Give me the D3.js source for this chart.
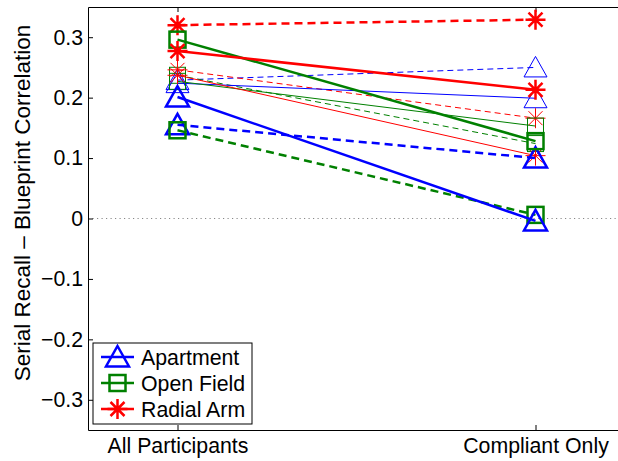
<!DOCTYPE html>
<html>
<head>
<meta charset="utf-8">
<script src="https://cdn.jsdelivr.net/npm/d3@7"></script>
<style>
  body { margin: 0; background: #fff; }
  text { font-family: "Liberation Sans", Arial, Helvetica, sans-serif; }
</style>
</head>
<body>
<script>
// conditions on the x axis
const conditions = ['All Participants', 'Compliant Only']
const yTicks = [-0.3, -0.2, -0.1, 0, 0.1, 0.2, 0.3]

// series names (legend), one per environment
const groups = ['Apartment', 'Open Field', 'Radial Arm']

// each environment has 4 lines: thick solid, thin solid, thick dashed, thin dashed
const apartment = {
  thickSolid:  [0.201, -0.004],
  thinSolid:   [0.224, 0.199],
  thickDashed: [0.155, 0.100],
  thinDashed:  [0.229, 0.250]
}
const openField = {
  thickSolid:  [0.296, 0.128],
  thinSolid:   [0.227, 0.153],
  thickDashed: [0.146, 0.006],
  thinDashed:  [0.237, 0.124]
}
const radialArm = {
  thickSolid:  [0.277, 0.213],
  thinSolid:   [0.237, 0.104],
  thickDashed: [0.320, 0.329],
  thinDashed:  [0.246, 0.166]
}

const W = 618, H = 461
const axLeft = 88, axTop = 7, axBottom = 430
const fs = 21.3

let svg = d3.select('body').append('svg')
  .attr('width', W).attr('height', H)

let x = d3.scaleLinear().domain([0.75, 2.25]).range([axLeft, 625])
let y = d3.scaleLinear().domain([-0.35, 0.35]).range([axBottom, axTop])

// zero reference
svg.append('line')
  .attr('x1', x(0.75)).attr('x2', x(2.25))
  .attr('y1', y(0)).attr('y2', y(0))
  .attr('stroke', '#888').attr('stroke-width', 1)
  .attr('stroke-dasharray', '1.2,3.3')

// axes
svg.append('g').attr('transform', `translate(${axLeft},0)`)
  .call(d3.axisLeft(y).tickValues(yTicks).tickSizeInner(-5).tickSizeOuter(0).tickPadding(5)
    .tickFormat(d => d === 0 ? '0' : d3.format('.1f')(d)))
svg.append('g').attr('transform', `translate(0,${axBottom})`)
  .call(d3.axisBottom(x).tickValues([1, 2]).tickSizeInner(-5).tickSizeOuter(0).tickPadding(8)
    .tickFormat(d => conditions[d - 1]))
svg.append('g').attr('transform', `translate(0,${axTop})`)
  .call(d3.axisTop(x).tickValues([1, 2]).tickSizeInner(-5).tickSizeOuter(0).tickFormat(''))

svg.selectAll('.tick text').attr('font-size', fs).attr('fill', '#000')
  .attr('font-family', '"Liberation Sans", Arial, sans-serif')
svg.selectAll('.domain, .tick line').attr('stroke', '#000').attr('stroke-width', 1)

svg.append('text')
  .attr('transform', 'translate(30,203) rotate(-90)')
  .attr('text-anchor', 'middle')
  .attr('font-size', 22.5)
  .text('Serial Recall \u2013 Blueprint Correlation')

// markers
let drawMarker = (g, shape, cx, cy, color, sw) => {
  if (shape == 'tri') {
    g.append('path')
      .attr('d', `M${cx},${cy - 11}L${cx + 11.5},${cy + 9.5}L${cx - 11.5},${cy + 9.5}Z`)
      .attr('fill', 'none').attr('stroke', color).attr('stroke-width', sw)
  } else if (shape == 'sq') {
    g.append('rect')
      .attr('x', cx - 8).attr('y', cy - 8).attr('width', 16).attr('height', 16)
      .attr('fill', 'none').attr('stroke', color).attr('stroke-width', sw)
  } else {
    let r = 10, d = 7
    g.append('path')
      .attr('d', `M${cx - r},${cy}H${cx + r}M${cx},${cy - r}V${cy + r}` +
        `M${cx - d},${cy - d}L${cx + d},${cy + d}M${cx - d},${cy + d}L${cx + d},${cy - d}`)
      .attr('fill', 'none').attr('stroke', color).attr('stroke-width', sw)
  }
}

let series = [
  { data: apartment, color: '#0000ff', shape: 'tri' },
  { data: openField, color: '#008000', shape: 'sq' },
  { data: radialArm, color: '#ff0000', shape: 'star' }
]
let styles = [
  { key: 'thinDashed', sw: 1, dash: '6,4' },
  { key: 'thinSolid', sw: 1, dash: null },
  { key: 'thickDashed', sw: 2.5, dash: '8,5' },
  { key: 'thickSolid', sw: 2.5, dash: null }
]

let line = d3.line().x((d, i) => x(i + 1)).y(d => y(d))
let plot = svg.append('g')

styles.forEach(st => {
  series.forEach(s => {
    let vals = s.data[st.key]
    let g = plot.append('g')
    g.append('path')
      .attr('d', line(vals))
      .attr('fill', 'none')
      .attr('stroke', s.color)
      .attr('stroke-width', st.sw)
      .attr('stroke-dasharray', st.dash)
    vals.forEach((v, i) => drawMarker(g, s.shape, x(i + 1), y(v), s.color, st.sw))
  })
})

// legend
let lg = svg.append('g')
lg.append('rect')
  .attr('x', 93).attr('y', 343).attr('width', 159).attr('height', 81)
  .attr('fill', '#fff').attr('stroke', '#000').attr('stroke-width', 1)
groups.forEach((name, i) => {
  let ly = 357 + i * 26
  let s = series[i]
  lg.append('line')
    .attr('x1', 101).attr('x2', 134).attr('y1', ly).attr('y2', ly)
    .attr('stroke', s.color).attr('stroke-width', 2.5)
  drawMarker(lg, s.shape, 117.5, ly, s.color, 2.5)
  lg.append('text')
    .attr('x', 141).attr('y', ly + 8)
    .attr('font-size', fs)
    .text(name)
})
</script>
</body>
</html>
